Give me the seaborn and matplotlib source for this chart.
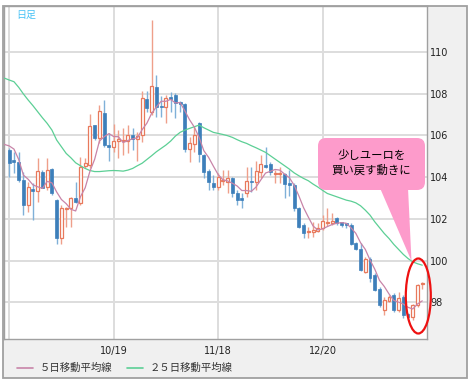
import numpy as np
import matplotlib
matplotlib.use("Agg")
import matplotlib.pyplot as plt
import seaborn as sns
import matplotlib.transforms as mtransforms
from matplotlib.patches import Rectangle, FancyBboxPatch, Polygon, Ellipse
from matplotlib.lines import Line2D

# ---------------- data ----------------
opens = [105.30, 104.82, 104.74, 103.86, 102.66, 103.43, 103.33, 104.23, 103.54, 104.37,
         102.90, 101.10, 102.47, 102.50, 102.98, 102.74, 104.55, 104.58, 106.50, 105.86,
         107.06, 105.54, 105.46, 105.73, 105.73, 105.73, 106.02, 105.83, 106.02, 107.75,
         107.14, 108.34, 107.43, 107.38, 107.83, 107.94, 107.59, 107.51, 105.35, 105.57,
         106.58, 105.06, 104.32, 103.73, 103.54, 103.81, 103.75, 103.94, 103.25, 102.98,
         103.22, 103.83, 103.78, 104.26, 104.58, 104.63, 104.13, 104.13, 104.13, 103.70,
         103.62, 102.50, 101.70, 101.35, 101.38, 101.42, 101.54, 101.78, 101.78, 102.05,
         101.83, 101.78, 101.70, 100.82, 100.58, 99.47, 100.10, 99.31, 98.66, 97.63,
         98.06, 98.35, 97.63, 98.27, 97.42, 97.31, 97.87, 98.86]
highs = [105.38, 105.22, 105.22, 104.26, 103.78, 103.70, 104.90, 104.34, 104.90, 104.42,
         102.95, 102.66, 102.58, 103.06, 103.78, 104.98, 104.90, 107.03, 106.50, 107.46,
         107.70, 106.10, 106.53, 106.26, 106.34, 106.50, 106.34, 106.18, 108.13, 108.13,
         111.54, 108.90, 107.91, 107.94, 108.10, 108.02, 107.65, 107.54, 105.94, 106.42,
         106.66, 105.09, 104.39, 104.10, 104.18, 104.34, 104.34, 104.02, 103.38, 103.22,
         104.50, 104.50, 104.77, 105.06, 105.46, 104.74, 104.34, 104.50, 104.18, 104.34,
         103.70, 102.58, 101.78, 101.62, 101.86, 101.78, 102.18, 102.53, 102.26, 102.10,
         101.86, 101.78, 101.78, 100.90, 100.82, 100.19, 100.19, 99.39, 98.75, 98.27,
         98.35, 98.43, 98.51, 98.35, 97.47, 97.90, 98.86, 98.98]
lows = [104.02, 104.18, 103.78, 102.18, 102.34, 101.94, 102.82, 103.46, 103.38, 103.14,
        100.78, 100.78, 101.62, 101.62, 102.74, 102.66, 104.42, 104.42, 105.78, 105.62,
        105.46, 104.79, 105.22, 104.90, 105.06, 105.14, 105.30, 104.79, 105.67, 107.14,
        106.98, 106.90, 106.90, 106.58, 107.14, 106.82, 107.14, 105.22, 104.74, 105.22,
        104.74, 103.94, 103.38, 103.38, 103.38, 103.62, 103.22, 103.06, 102.69, 102.50,
        103.06, 103.30, 103.38, 103.94, 104.42, 104.10, 103.70, 103.70, 103.01, 103.10,
        102.40, 101.54, 101.10, 101.10, 101.14, 101.38, 101.46, 101.67, 101.70, 101.70,
        101.62, 101.54, 100.74, 100.50, 99.50, 99.39, 98.98, 98.54, 97.79, 97.39,
        98.03, 97.55, 97.55, 97.23, 97.23, 97.15, 97.79, 98.66]
closes = [104.69, 104.74, 103.86, 102.66, 103.54, 103.33, 104.29, 103.49, 104.34, 103.22,
          101.10, 102.50, 102.50, 102.98, 102.82, 104.50, 104.66, 106.45, 105.86, 107.19,
          105.54, 105.43, 105.73, 105.83, 105.78, 106.02, 105.83, 105.99, 107.78, 107.33,
          108.37, 107.38, 107.35, 107.78, 107.75, 107.54, 107.49, 105.35, 105.62, 106.02,
          105.09, 104.26, 103.75, 103.54, 103.99, 103.86, 103.94, 103.22, 102.90, 102.89,
          103.83, 103.75, 104.29, 104.61, 104.50, 104.26, 104.18, 104.17, 103.65, 103.62,
          102.50, 101.62, 101.30, 101.42, 101.46, 101.54, 101.89, 101.86, 101.89, 101.78,
          101.70, 101.70, 100.78, 100.58, 99.54, 100.10, 99.15, 98.58, 97.87, 98.11,
          98.27, 97.63, 98.19, 97.39, 97.31, 97.87, 98.83, 98.94]
# moving averages: first value belongs to the day before the first candle
ma5 = [105.57,
       105.50, 105.35, 104.85, 104.10, 103.90, 103.63, 103.54, 103.46, 103.80, 103.73,
       103.29, 102.93, 102.73, 102.46, 102.38, 103.06, 103.49, 104.28, 104.86, 105.73,
       105.94, 106.09, 105.95, 105.94, 105.66, 105.76, 105.84, 105.89, 106.28, 106.59,
       107.06, 107.37, 107.64, 107.64, 107.73, 107.56, 107.58, 107.18, 106.75, 106.40,
       105.91, 105.27, 104.95, 104.53, 104.13, 103.88, 103.82, 103.71, 103.58, 103.36,
       103.36, 103.32, 103.53, 103.87, 104.20, 104.28, 104.37, 104.34, 104.15, 103.98,
       103.62, 103.11, 102.54, 102.09, 101.66, 101.47, 101.52, 101.63, 101.73, 101.79,
       101.82, 101.79, 101.57, 101.31, 100.86, 100.54, 100.03, 99.59, 99.05, 98.76,
       98.40, 98.09, 98.01, 97.92, 97.76, 97.68, 97.92, 98.07]
ma25 = [108.75,
        108.66, 108.58, 108.31, 107.99, 107.70, 107.43, 107.14, 106.85, 106.58, 106.26,
        105.78, 105.46, 105.14, 104.93, 104.69, 104.55, 104.42, 104.32, 104.27, 104.27,
        104.29, 104.31, 104.32, 104.31, 104.29, 104.34, 104.42, 104.55, 104.67, 104.85,
        105.03, 105.22, 105.38, 105.54, 105.73, 105.97, 106.15, 106.26, 106.34, 106.42,
        106.50, 106.37, 106.26, 106.15, 106.10, 106.05, 105.99, 105.91, 105.80, 105.70,
        105.62, 105.51, 105.41, 105.30, 105.19, 105.03, 104.87, 104.71, 104.55, 104.39,
        104.21, 104.07, 103.94, 103.83, 103.67, 103.53, 103.37, 103.22, 103.14, 103.06,
        102.98, 102.90, 102.85, 102.77, 102.63, 102.42, 102.18, 101.86, 101.58, 101.30,
        101.06, 100.78, 100.54, 100.30, 100.10, 99.94, 99.85, 99.78]

date_labels = ["", "10/19", "11/18", "12/20"]
date_positions = [0, 22, 44, 66]          # candle index of each month gridline
y_ticks = [98, 100, 102, 104, 106, 108, 110]
legend_labels = ["５日移動平均線", "２５日移動平均線"]
period_label = "日足"
callout_text = "少しユーロを\n買い戻す動きに"

# ---------------- style ----------------
sns.set_style("white")
CJK = ["Noto Sans CJK JP", "DejaVu Sans"]
plt.rcParams["font.family"] = ["DejaVu Sans", "Noto Sans CJK JP"]

up_edge = "#e8795c"
up_wick = "#ef9f8a"
down_body = "#3d7fba"
down_wick = "#7fb0d8"
ma5_color = "#c884a8"
ma25_color = "#5ccf95"
panel_bg = "#f0f0f0"
frame_col = "#a0a0a0"

W, H = 470, 384
fig = plt.figure(figsize=(W / 100, H / 100), dpi=100)
fig.patch.set_facecolor("white")
PIX = mtransforms.IdentityTransform()

def fx(px):
    return px / W

def fy(py):
    return 1 - py / H

L, R, T, B = 3.5, 427, 6, 339

# background panels (right axis panel + bottom panel)
bg = Rectangle((3, H - 378), 464, 372, transform=PIX,
               facecolor=panel_bg, edgecolor=frame_col, lw=1.3, zorder=-5)
fig.patches.append(bg)

ax = fig.add_axes([fx(L), fy(B), fx(R) - fx(L), fy(T) - fy(B)])
ax.set_zorder(1)
ax.set_facecolor("white")

n = len(closes)
x = np.arange(n)
o = np.array(opens); c = np.array(closes); h = np.array(highs); lo = np.array(lows)
up = c >= o

# wicks
ax.vlines(x[up], lo[up], h[up], color=up_wick, lw=1.0, zorder=2)
ax.vlines(x[~up], lo[~up], h[~up], color=down_wick, lw=1.0, zorder=2)
# bodies
bw = 0.62
body_lo = np.minimum(o, c)
body_h = np.maximum(np.abs(c - o), 0.05)
ax.bar(x[up], body_h[up], bottom=body_lo[up], width=bw, facecolor="white",
       edgecolor=up_edge, lw=0.9, zorder=3)
ax.bar(x[~up], body_h[~up], bottom=body_lo[~up], width=bw, facecolor=down_body,
       edgecolor=down_body, lw=0.5, zorder=3)

# moving averages
ma_x = np.arange(-1, n)
sns.lineplot(x=ma_x, y=ma25, ax=ax, color=ma25_color, lw=0.9, zorder=4)
sns.lineplot(x=ma_x, y=ma5, ax=ax, color=ma5_color, lw=0.9, zorder=5)

ax.set_xlim(-1.2, 88.0)
ax.set_ylim(96.24, 112.21)
ax.set_xticks(date_positions)
ax.set_xticklabels(date_labels)
ax.set_yticks(y_ticks)
ax.set_yticklabels([str(v) for v in y_ticks])
ax.yaxis.tick_right()
ax.grid(True, color="#dddddd", lw=1.4, zorder=0)
ax.set_axisbelow(True)
ax.tick_params(axis="y", length=0, pad=2.2, labelsize=7, labelcolor="#222222")
ax.tick_params(axis="x", length=0, pad=5, labelsize=7, labelcolor="#222222")
for s in ax.spines.values():
    s.set_color(frame_col)
    s.set_linewidth(1.0)
ax.set_xlabel("")
ax.set_ylabel("")

# period label
fig.text(fx(16.5), fy(15), period_label, color="#48c2f5", fontsize=7.2,
         family=CJK, ha="left", va="center", zorder=6)

# legend (manual)
leg_items = [(17, 33, 40, ma5_color), (127, 143, 150, ma25_color)]
for (x0, x1, tx, col), lab in zip(leg_items, legend_labels):
    fig.add_artist(Line2D([x0, x1], [H - 368, H - 368], transform=PIX, color=col, lw=1.2))
    fig.text(fx(tx), fy(368), lab, fontsize=7.5, family=CJK, color="#333333",
             ha="left", va="center")

# callout
pink = "#fd9bcb"
box = FancyBboxPatch((318, H - 190), 107, 52, boxstyle="round,pad=0,rounding_size=8",
                     transform=PIX, facecolor=pink, edgecolor="none", zorder=10)
fig.patches.append(box)
tri = Polygon([(380, H - 188), (408, H - 188), (411.5, H - 261)], closed=True,
              transform=PIX, facecolor=pink, edgecolor="none", zorder=10)
fig.patches.append(tri)
fig.text(fx(371.5), fy(163), callout_text, fontsize=8.2, family=CJK, color="black",
         ha="center", va="center", linespacing=1.4, zorder=11)

# red ellipse
ell = Ellipse((418.3, H - 296), 25, 75, transform=PIX, facecolor="none",
              edgecolor="#ee1111", lw=1.6, zorder=12)
fig.patches.append(ell)

fig.savefig("out.png", dpi=100)
